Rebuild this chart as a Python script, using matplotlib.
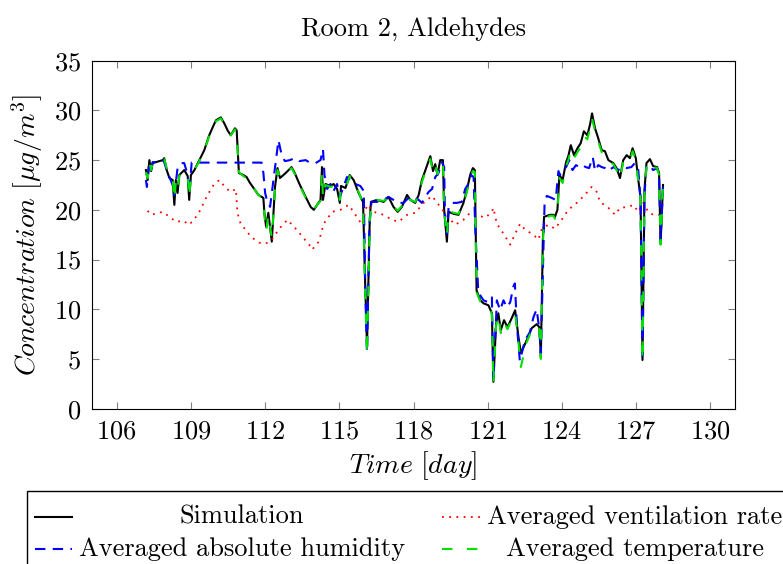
import numpy as np
import matplotlib
matplotlib.use("Agg")
import matplotlib.pyplot as plt
from matplotlib.lines import Line2D
from matplotlib.patches import Rectangle

plt.rcParams['font.family'] = 'serif'
plt.rcParams['font.serif'] = ['cmr10', 'DejaVu Serif']
plt.rcParams['mathtext.fontset'] = 'cm'
plt.rcParams['axes.formatter.use_mathtext'] = True
plt.rcParams['axes.unicode_minus'] = False

# simulation (black)
t_sim = [107.18, 107.25, 107.32, 107.39, 107.45, 107.59, 107.72, 107.86, 107.92, 108.02,
         108.13, 108.26, 108.33, 108.39, 108.46, 108.53, 108.73, 108.87, 108.93, 109.0,
         109.14, 109.34, 109.54, 109.74, 109.88, 110.01, 110.21, 110.35, 110.48, 110.61,
         110.78, 110.85, 110.94, 111.12, 111.25, 111.39, 111.53, 111.73, 111.93, 111.97,
         112.04, 112.13, 112.27, 112.4, 112.5, 112.6, 112.74, 112.87, 113.07, 113.2,
         113.37, 113.64, 113.84, 113.97, 114.24, 114.3, 114.34, 114.44, 114.64, 114.77,
         114.91, 115.02, 115.07, 115.25, 115.42, 115.58, 115.78, 115.96, 116.03, 116.12,
         116.23, 116.28, 116.52, 116.79, 116.99, 117.19, 117.36, 117.53, 117.74, 117.87,
         118.07, 118.21, 118.34, 118.48, 118.68, 118.79, 118.88, 118.97, 119.08, 119.19,
         119.24, 119.35, 119.42, 119.62, 119.82, 120.02, 120.16, 120.29, 120.4, 120.48,
         120.55, 120.7, 120.83, 121.03, 121.17, 121.23, 121.34, 121.43, 121.53, 121.66,
         121.8, 121.97, 122.11, 122.24, 122.34, 122.58, 122.78, 122.98, 123.09, 123.15,
         123.23, 123.28, 123.52, 123.66, 123.72, 123.82, 123.9, 124.03, 124.17, 124.26,
         124.36, 124.49, 124.63, 124.76, 124.89, 125.03, 125.14, 125.22, 125.34, 125.47,
         125.61, 125.74, 125.88, 126.08, 126.21, 126.35, 126.48, 126.62, 126.75, 126.86,
         126.99, 127.09, 127.18, 127.26, 127.34, 127.42, 127.56, 127.69, 127.85, 127.93,
         127.99, 128.09]
sim = [24.0, 23.0, 25.0, 23.9, 24.7, 24.8, 24.9, 25.0, 25.2, 24.0,
       23.2, 23.0, 20.5, 23.0, 21.7, 23.5, 24.0, 23.4, 21.0, 23.5,
       24.0, 25.0, 26.0, 27.5, 28.3, 29.0, 29.3, 28.7, 28.0, 27.5,
       28.2, 28.0, 23.7, 23.5, 23.3, 22.7, 22.2, 21.5, 21.2, 19.7,
       18.3, 19.7, 16.8, 22.3, 24.2, 23.2, 23.5, 23.8, 24.3, 23.7,
       22.7, 21.3, 20.3, 20.0, 21.0, 24.3, 21.0, 22.6, 22.4, 22.6,
       22.1, 20.7, 22.4, 22.2, 23.5, 23.0, 21.7, 20.8, 14.0, 6.2,
       19.0, 20.8, 21.0, 20.8, 21.3, 20.3, 19.8, 20.3, 21.5, 21.0,
       20.7, 21.5, 23.0, 24.0, 25.4, 23.9, 24.6, 23.5, 25.0, 25.0,
       20.0, 16.8, 19.8, 19.6, 19.5, 20.7, 22.0, 23.5, 24.2, 24.0,
       11.9, 10.9, 10.6, 10.4, 9.6, 2.7, 8.6, 9.6, 7.9, 8.9,
       8.2, 9.1, 9.9, 7.3, 5.6, 6.9, 8.1, 8.5, 8.2, 5.2,
       17.0, 19.3, 19.5, 19.5, 19.3, 20.0, 23.5, 23.0, 24.8, 25.4,
       26.5, 25.5, 26.2, 26.7, 27.9, 27.5, 28.6, 29.7, 28.2, 27.2,
       26.0, 25.9, 25.0, 24.7, 24.2, 23.2, 25.0, 25.5, 25.2, 26.2,
       25.2, 23.0, 21.3, 4.9, 22.0, 24.7, 25.1, 24.4, 24.3, 23.7,
       16.6, 22.5]

# averaged temperature (green)
t_temp = t_sim
temp = [23.8, 23.2, 24.8, 24.0, 24.6, 24.9, 24.8, 25.0, 25.1, 24.2,
        23.3, 23.1, 21.0, 22.8, 22.0, 23.4, 23.9, 23.5, 21.2, 23.4,
        24.0, 24.9, 26.0, 27.4, 28.2, 28.9, 29.2, 28.6, 28.0, 27.5,
        28.1, 27.9, 23.8, 23.4, 23.2, 22.6, 22.2, 21.5, 21.1, 19.5,
        17.8, 19.5, 17.2, 22.0, 24.0, 23.3, 23.4, 23.8, 24.2, 23.6,
        22.6, 21.2, 20.4, 20.1, 20.9, 23.8, 21.2, 22.5, 22.3, 22.4,
        22.2, 21.0, 22.3, 22.1, 23.4, 23.0, 21.8, 20.6, 13.0, 5.4,
        18.5, 20.7, 21.0, 20.9, 21.2, 20.4, 19.9, 20.4, 21.4, 21.0,
        20.8, 21.4, 22.8, 23.8, 25.1, 23.8, 24.5, 23.6, 24.7, 24.8,
        19.8, 17.3, 19.9, 19.7, 19.6, 20.6, 21.8, 23.3, 23.9, 23.8,
        11.7, 10.8, 10.5, 10.3, 9.5, 2.5, 8.4, 9.4, 7.6, 8.7,
        8.0, 9.0, 9.6, 6.8, 4.2, 6.7, 7.9, 8.4, 8.0, 5.0,
        16.5, 19.1, 19.4, 19.4, 19.1, 19.8, 23.2, 22.7, 24.4, 25.0,
        26.0, 25.2, 25.8, 26.3, 27.4, 27.1, 28.2, 29.2, 27.9, 26.9,
        25.8, 25.6, 24.9, 24.6, 24.0, 23.1, 24.8, 25.3, 25.0, 25.9,
        25.0, 22.8, 21.0, 4.8, 21.5, 24.5, 24.9, 24.3, 24.2, 23.5,
        16.5, 22.4]

# averaged absolute humidity (blue)
t_hum = [107.18, 107.22, 107.3, 107.4, 107.45, 107.6, 107.72, 107.86, 107.92, 108.02,
         108.13, 108.26, 108.33, 108.46, 108.6, 108.73, 108.87, 108.93, 109.03, 111.86,
         111.93, 112.0, 112.07, 112.2, 112.54, 112.67, 112.8, 113.0, 113.2, 113.37,
         113.64, 113.84, 114.04, 114.24, 114.34, 114.4, 114.51, 114.64, 114.77, 114.91,
         115.02, 115.11, 115.31, 115.45, 115.65, 115.85, 115.99, 116.05, 116.12, 116.22,
         116.3, 116.52, 116.79, 116.99, 117.19, 117.4, 117.6, 117.8, 118.0, 118.21,
         118.34, 118.48, 118.61, 118.75, 118.88, 119.01, 119.15, 119.24, 119.28, 119.35,
         119.42, 119.55, 119.75, 119.95, 120.09, 120.22, 120.32, 120.43, 120.5, 120.62,
         120.83, 121.03, 121.17, 121.23, 121.37, 121.5, 121.64, 121.77, 121.91, 122.04,
         122.1, 122.18, 122.3, 122.51, 122.71, 122.85, 122.98, 123.09, 123.15, 123.3,
         123.39, 123.59, 123.75, 123.86, 123.93, 124.03, 124.17, 124.3, 124.43, 124.57,
         124.7, 124.83, 124.96, 125.1, 125.25, 125.34, 125.47, 125.61, 125.74, 125.88,
         126.08, 126.28, 126.41, 126.61, 126.81, 126.95, 127.09, 127.18, 127.26, 127.34,
         127.42, 127.56, 127.69, 127.85, 127.93, 127.99, 128.09]
hum = [23.0, 22.3, 24.5, 24.0, 24.8, 24.8, 24.8, 25.0, 24.8, 24.0,
       23.3, 22.5, 21.5, 24.2, 24.7, 24.7, 23.5, 21.7, 24.75, 24.75,
       23.7, 21.7, 21.0, 20.3, 27.0, 25.5, 24.9, 25.0, 25.2, 24.9,
       25.0, 24.7, 24.7, 25.0, 26.1, 23.5, 22.1, 22.6, 21.9, 22.6,
       21.3, 21.9, 23.3, 23.0, 22.6, 22.4, 21.9, 12.0, 5.7, 18.5,
       20.8, 20.8, 21.0, 21.3, 21.0, 20.7, 20.7, 21.2, 21.3, 21.0,
       20.7, 21.3, 21.8, 22.1, 23.3, 23.7, 24.8, 24.3, 18.3, 17.6,
       20.3, 20.7, 20.7, 20.8, 22.1, 22.6, 23.5, 23.3, 18.0, 11.7,
       10.9, 10.7, 11.2, 2.9, 10.9, 9.9, 10.9, 10.2, 10.7, 12.3,
       12.6, 8.4, 4.8, 6.9, 7.7, 9.2, 10.0, 7.9, 5.6, 20.7,
       21.4, 21.2, 21.0, 23.9, 23.5, 24.0, 24.3, 25.0, 24.0, 24.5,
       24.3, 24.5, 24.3, 24.2, 25.3, 23.9, 24.5, 24.3, 24.2, 23.9,
       24.3, 24.0, 24.3, 24.2, 24.3, 24.7, 24.0, 21.0, 5.0, 21.5,
       24.3, 24.5, 24.0, 24.2, 23.5, 16.9, 22.3]

# averaged ventilation rate (red)
t_vent = [107.25, 107.39, 107.86, 108.19, 108.39, 108.73, 108.87, 109.07, 109.34, 109.67,
          109.94, 110.15, 110.41, 110.61, 110.82, 110.88, 111.02, 111.22, 111.42, 111.76,
          112.03, 112.3, 112.57, 112.9, 113.17, 113.51, 113.84, 113.9, 114.17, 114.37,
          114.71, 115.04, 115.38, 115.65, 115.92, 116.12, 116.39, 116.79, 117.13, 117.4,
          117.74, 118.07, 118.41, 118.75, 119.08, 119.42, 119.69, 120.02, 120.29, 120.56,
          120.9, 121.17, 121.23, 121.37, 121.64, 121.91, 122.11, 122.31, 122.51, 122.85,
          123.05, 123.19, 123.45, 123.72, 123.99, 124.26, 124.6, 124.93, 125.2, 125.41,
          125.54, 125.88, 126.15, 126.35, 126.69, 126.89, 127.09, 127.29, 127.49, 127.69,
          128.1]
vent = [19.9, 19.5, 19.8, 19.2, 18.8, 18.9, 18.5, 18.8, 19.8, 21.5,
        22.6, 23.0, 22.2, 21.8, 22.1, 19.7, 18.5, 18.0, 17.3, 16.7,
        16.6, 17.1, 18.1, 19.0, 18.3, 17.3, 16.3, 16.0, 16.8, 18.6,
        19.8, 20.0, 20.5, 19.5, 18.5, 20.5, 19.8, 19.5, 19.0, 18.8,
        19.5, 19.7, 20.7, 21.4, 20.3, 19.2, 18.5, 19.0, 19.7, 19.5,
        19.2, 19.8, 20.2, 18.6, 17.6, 16.5, 17.6, 18.6, 18.0, 17.5,
        17.0, 18.1, 18.5, 18.1, 19.0, 20.0, 20.7, 21.5, 22.3, 21.8,
        20.8, 20.2, 19.5, 20.2, 20.3, 20.5, 19.8, 20.7, 19.8, 19.5,
        19.5]

labels = ["Simulation", "Averaged ventilation rate",
          "Averaged absolute humidity", "Averaged temperature"]
x_ticks = list(range(106, 131, 3))
y_ticks = list(range(0, 36, 5))

fig = plt.figure(figsize=(7.83, 5.64), dpi=100)
ax = fig.add_axes([92/783, 1-408.7/564, (735-92)/783, (408.7-60.7)/564])

styles = [
    dict(color="black", lw=1.5, ls="-"),
    dict(color="red", lw=1.3, ls=(0, (1, 3))),
    dict(color="blue", lw=1.5, ls=(0, (5, 3.5))),
    dict(color="#00e000", lw=1.5, ls=(0, (5, 7))),
]
ax.plot(t_sim, sim, **styles[0])
ax.plot(t_vent, vent, **styles[1])
ax.plot(t_hum, hum, **styles[2])
ax.plot(t_temp, temp, **styles[3])

ax.set_xlim(105, 131)
ax.set_ylim(0, 35)
ax.set_xticks(x_ticks)
ax.set_yticks(y_ticks)
ax.tick_params(direction="in", length=5, top=True, right=True, labelsize=19,
               color="#808080", pad=8)
ax.set_title("Room 2, Aldehydes", fontsize=19, pad=18)
ax.set_xlabel(r"$Time\ [day]$", fontsize=20, labelpad=4)
ax.set_ylabel(r"$Concentration\ [\mu g/m^3]$", fontsize=20, labelpad=6)

# legend drawn by hand so the labels sit centred in their columns
fig.add_artist(Rectangle((27/783, 1-600/564), 800/783, 109/564, transform=fig.transFigure,
                         fill=False, edgecolor="black", lw=1))
rows = [1-517/564, 1-549/564]
cols = [(35/783, 72/783, 242/783), (442/783, 480/783, 635/783)]
for i, lab in enumerate(labels):
    r, c = i // 2, i % 2
    x0, x1, xc = cols[c]
    fig.add_artist(Line2D([x0, x1], [rows[r], rows[r]], transform=fig.transFigure, **styles[i]))
    fig.text(xc, rows[r], lab, ha="center", va="center", fontsize=19)

fig.savefig("out.png", dpi=100)
